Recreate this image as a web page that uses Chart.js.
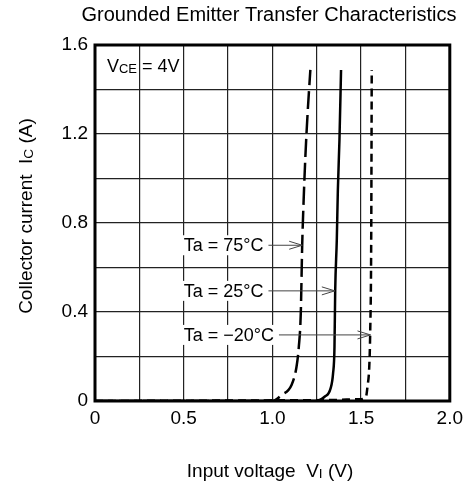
<!DOCTYPE html>
<html>
<head>
<meta charset="utf-8">
<script src="https://cdn.jsdelivr.net/npm/chart.js@4.4.1/dist/chart.umd.min.js"></script>
<style>
  body { margin: 0; background: #fff; }
  #wrap { width: 469px; height: 486px; }
</style>
</head>
<body>
<div id="wrap"><canvas id="chart" width="469" height="486"></canvas></div>
<script>
// curves (Vi in V, Ic in A)
const t75X = [0, 1.0, 1.052, 1.108, 1.136, 1.149, 1.160, 1.168, 1.176, 1.186, 1.199, 1.214];
const t75Y = [0, 0, 0.027, 0.072, 0.154, 0.244, 0.394, 0.701, 0.90, 1.10, 1.30, 1.488];

const t25X = [0, 1.239, 1.294, 1.328, 1.342, 1.350, 1.354, 1.363, 1.369, 1.378, 1.387];
const t25Y = [0, 0, 0.019, 0.057, 0.124, 0.244, 0.496, 0.724, 0.948, 1.173, 1.488];

const tm20X = [0, 1.30, 1.49, 1.527, 1.536, 1.546, 1.551, 1.557, 1.560];
const tm20Y = [0, 0.004, 0.008, 0.018, 0.064, 0.154, 0.297, 0.724, 1.488];

const xTickLabels = ["0", "0.5", "1.0", "1.5", "2.0"];
const yTickLabels = ["0", "0.4", "0.8", "1.2", "1.6"];

const tempLabels = ["Ta = 75°C", "Ta = 25°C", "Ta = \u221220°C"];
const arrowX = [1.168, 1.352, 1.553];
const arrowY = [0.70, 0.495, 0.297];

const FONT = "Liberation Sans, Arial, sans-serif";

function pts(xs, ys) {
    return xs.map((x, i) => ({ x: x, y: ys[i] }));
}

// text made of normal / subscript parts, left aligned at x
function partsWidth(ctx, parts, size) {
    let w = 0;
    parts.forEach(p => {
        ctx.font = (p[1] ? size * 0.72 : size) + "px " + FONT;
        w += ctx.measureText(p[0]).width;
    });
    return w;
}

function drawParts(ctx, parts, x, y, size) {
    ctx.textBaseline = "alphabetic";
    ctx.textAlign = "left";
    parts.forEach(p => {
        ctx.font = (p[1] ? size * 0.72 : size) + "px " + FONT;
        ctx.fillText(p[0], x, y + (p[1] ? 0.5 : 0));
        x += ctx.measureText(p[0]).width;
    });
    return x;
}

const annotations = {
    id: "annotations",
    afterDraw(chart) {
        const ctx = chart.ctx;
        const a = chart.chartArea;
        const xs = chart.scales.x;
        const ys = chart.scales.y;
        ctx.save();
        ctx.fillStyle = "#000";

        // temperature labels with arrows
        ctx.font = "18px " + FONT;
        tempLabels.forEach((t, i) => {
            const lx = xs.getPixelForValue(0.5);
            const ly = ys.getPixelForValue(arrowY[i]);
            const w = ctx.measureText(t).width;
            ctx.fillStyle = "#fff";
            ctx.fillRect(lx - 1, ly - 10, w + 2, 20);
            ctx.fillStyle = "#000";
            ctx.textBaseline = "middle";
            ctx.textAlign = "left";
            ctx.fillText(t, lx, ly + 1);

            const tipX = xs.getPixelForValue(arrowX[i]);
            ctx.strokeStyle = "#444";
            ctx.lineWidth = 1;
            ctx.beginPath();
            ctx.moveTo(lx + w + 5, ly);
            ctx.lineTo(tipX, ly);
            ctx.moveTo(tipX - 13, ly - 4);
            ctx.lineTo(tipX, ly);
            ctx.lineTo(tipX - 13, ly + 4);
            ctx.stroke();
        });

        // frame
        ctx.strokeStyle = "#000";
        ctx.lineWidth = 3;
        ctx.strokeRect(a.left, a.top, a.right - a.left, a.bottom - a.top);

        // VCE = 4V
        drawParts(ctx, [["V", false], ["CE", true], [" = 4V", false]], 107, 72, 18);

        // title
        ctx.font = "20px " + FONT;
        ctx.textAlign = "center";
        ctx.textBaseline = "middle";
        ctx.fillText("Grounded Emitter Transfer Characteristics", 269, 15);

        // x axis title
        const xParts = [["Input voltage  V", false], ["I", true], [" (V)", false]];
        const xw = partsWidth(ctx, xParts, 19);
        drawParts(ctx, xParts, 270 - xw / 2, 477, 19);

        // y axis title
        const yParts = [["Collector current  I", false], ["C", true], [" (A)", false]];
        const yw = partsWidth(ctx, yParts, 19);
        ctx.translate(32, 216);
        ctx.rotate(-Math.PI / 2);
        drawParts(ctx, yParts, -yw / 2, 0, 19);

        ctx.restore();
    }
};

new Chart(document.getElementById("chart"), {
    type: "scatter",
    data: {
        datasets: [
            {
                label: "Ta = 75°C",
                data: pts(t75X, t75Y),
                showLine: true,
                borderColor: "#000",
                borderWidth: 2.5,
                borderDash: [18, 6],
                pointRadius: 0,
                cubicInterpolationMode: "monotone"
            },
            {
                label: "Ta = 25°C",
                data: pts(t25X, t25Y),
                showLine: true,
                borderColor: "#000",
                borderWidth: 2.5,
                pointRadius: 0,
                cubicInterpolationMode: "monotone"
            },
            {
                label: "Ta = -20°C",
                data: pts(tm20X, tm20Y),
                showLine: true,
                borderColor: "#000",
                borderWidth: 2.5,
                borderDash: [8, 5],
                pointRadius: 0,
                cubicInterpolationMode: "monotone"
            }
        ]
    },
    options: {
        responsive: false,
        animation: false,
        layout: { padding: { left: 0, right: 16, top: 45, bottom: 0 } },
        plugins: {
            legend: { display: false },
            tooltip: { enabled: false },
            title: { display: false }
        },
        scales: {
            x: {
                type: "linear",
                min: 0,
                max: 2,
                afterFit: s => { s.height = 85; },
                border: { display: false },
                grid: { color: "#222", lineWidth: 1.2, drawTicks: false },
                ticks: {
                    stepSize: 0.25,
                    padding: 6,
                    color: "#000",
                    font: { family: FONT, size: 19 },
                    callback: v => {
                        const k = v / 0.5;
                        return Math.abs(k - Math.round(k)) < 1e-6 ? xTickLabels[Math.round(k)] : "";
                    }
                }
            },
            y: {
                min: 0,
                max: 1.6,
                afterFit: s => { s.width = 95; },
                border: { display: false },
                grid: { color: "#222", lineWidth: 1.2, drawTicks: false },
                ticks: {
                    stepSize: 0.2,
                    padding: 7,
                    color: "#000",
                    font: { family: FONT, size: 19 },
                    callback: v => {
                        const k = v / 0.4;
                        return Math.abs(k - Math.round(k)) < 1e-6 ? yTickLabels[Math.round(k)] : "";
                    }
                }
            }
        }
    },
    plugins: [annotations]
});
</script>
</body>
</html>
